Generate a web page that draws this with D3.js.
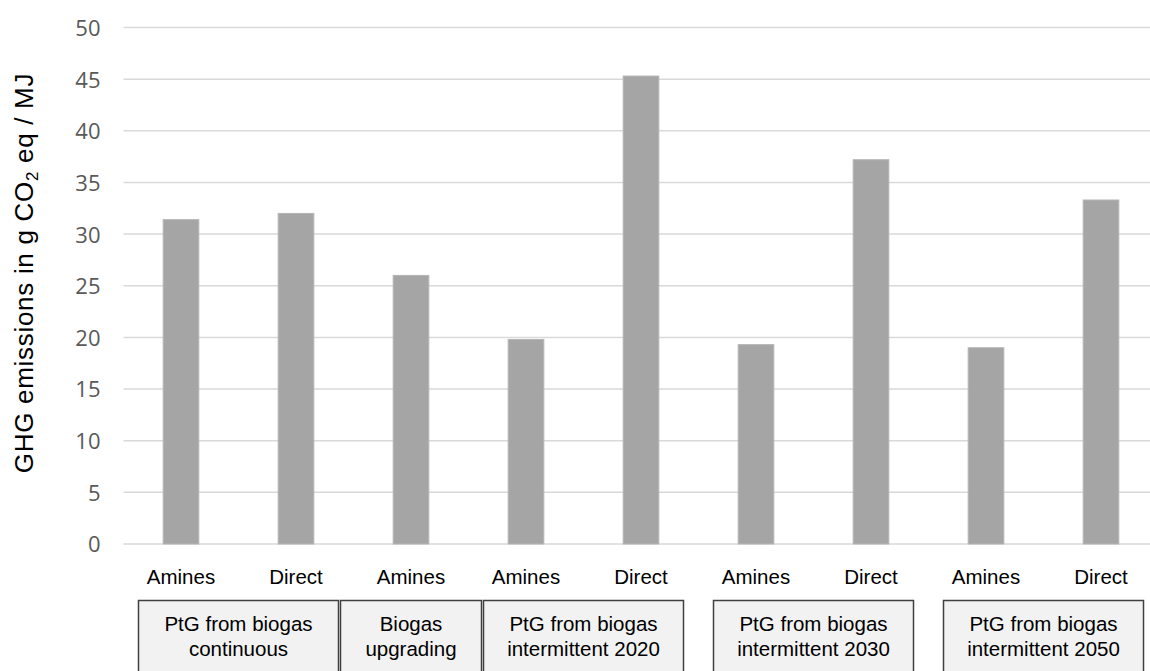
<!DOCTYPE html>
<html>
<head>
<meta charset="utf-8">
<script src="https://cdn.jsdelivr.net/npm/d3@7"></script>
<style>
  html, body { margin: 0; padding: 0; background: #fff; }
  svg { display: block; }
</style>
</head>
<body>
<div id="chart"></div>
<script>
// ---- data ----
const barIds      = ["c1a", "c1d", "up", "i20a", "i20d", "i30a", "i30d", "i50a", "i50d"];
const barLabels   = ["Amines", "Direct", "Amines", "Amines", "Direct", "Amines", "Direct", "Amines", "Direct"];
const barValues   = [31.4, 32.0, 26.0, 19.8, 45.3, 19.3, 37.2, 19.0, 33.3];
const groupNames  = [["PtG from biogas", "continuous"], ["Biogas", "upgrading"],
                     ["PtG from biogas", "intermittent 2020"], ["PtG from biogas", "intermittent 2030"],
                     ["PtG from biogas", "intermittent 2050"]];
const groupMembers = [["c1a", "c1d"], ["up"], ["i20a", "i20d"], ["i30a", "i30d"], ["i50a", "i50d"]];
const yTicks      = [0, 5, 10, 15, 20, 25, 30, 35, 40, 45, 50];

// ---- layout ----
const W = 1150, H = 671;
const plotLeft = 123.5, plotTop = 27.5, plotBottom = 544;
const step = 115;

const svg = d3.select("#chart").append("svg").attr("width", W).attr("height", H);

const x = d3.scaleBand().domain(barIds)
  .range([plotLeft, plotLeft + step * barIds.length])
  .paddingInner(0.69).paddingOuter(0.345);
const y = d3.scaleLinear().domain([0, 50]).range([plotBottom, plotTop]);

// gridlines
svg.append("g").selectAll("line").data(yTicks).join("line")
  .attr("x1", plotLeft).attr("x2", W)
  .attr("y1", d => y(d)).attr("y2", d => y(d))
  .attr("stroke", "#d9d9d9").attr("stroke-width", 1.5);

// y axis labels
const yAxis = d3.axisLeft(y).tickValues(yTicks).tickSize(0).tickPadding(0);
const gy = svg.append("g").attr("transform", `translate(${plotLeft - 23},0)`).call(yAxis);
gy.select(".domain").remove();
gy.selectAll("text")
  .attr("font-family", "'Open Sans', sans-serif")
  .attr("font-size", 22).attr("fill", "#595959").attr("dy", "0.36em");

// bars
svg.append("g").selectAll("rect").data(barIds).join("rect")
  .attr("x", d => x(d)).attr("width", x.bandwidth())
  .attr("y", (d, i) => y(barValues[i]))
  .attr("height", (d, i) => y(0) - y(barValues[i]))
  .attr("fill", "#a5a5a5").attr("stroke", "#b5b5b5").attr("stroke-width", 1);

// bar labels
svg.append("g").selectAll("text").data(barIds).join("text")
  .attr("x", d => x(d) + x.bandwidth() / 2).attr("y", 584)
  .attr("text-anchor", "middle")
  .attr("font-family", "'Liberation Sans', Arial, sans-serif")
  .attr("font-size", 20.5).attr("fill", "#000")
  .text((d, i) => barLabels[i]);

// group boxes
const gg = svg.append("g");
groupMembers.forEach((mem, gi) => {
  const c0 = x(mem[0]) + x.bandwidth() / 2;
  const c1 = x(mem[mem.length - 1]) + x.bandwidth() / 2;
  const cx = (c0 + c1) / 2;
  const bw = mem.length > 1 ? 200 : 141;
  gg.append("rect")
    .attr("x", cx - bw / 2).attr("y", 600.5).attr("width", bw).attr("height", 80)
    .attr("fill", "#f2f2f2").attr("stroke", "#404040").attr("stroke-width", 1.5);
  groupNames[gi].forEach((ln, li) => {
    gg.append("text").attr("x", cx).attr("y", 631 + li * 24.5)
      .attr("text-anchor", "middle")
      .attr("font-family", "'Liberation Sans', Arial, sans-serif")
      .attr("font-size", 20.5).attr("fill", "#000").text(ln);
  });
});

// y title
const t = svg.append("text")
  .attr("transform", `translate(33,273) rotate(-90)`)
  .attr("text-anchor", "middle")
  .attr("font-family", "'Liberation Sans', Arial, sans-serif")
  .attr("font-size", 26).attr("letter-spacing", 0.7).attr("fill", "#000");
t.append("tspan").text("GHG emissions in g CO");
t.append("tspan").attr("font-size", 17).attr("dy", 5).text("2");
t.append("tspan").attr("dy", -5).text(" eq / MJ");
</script>
</body>
</html>
